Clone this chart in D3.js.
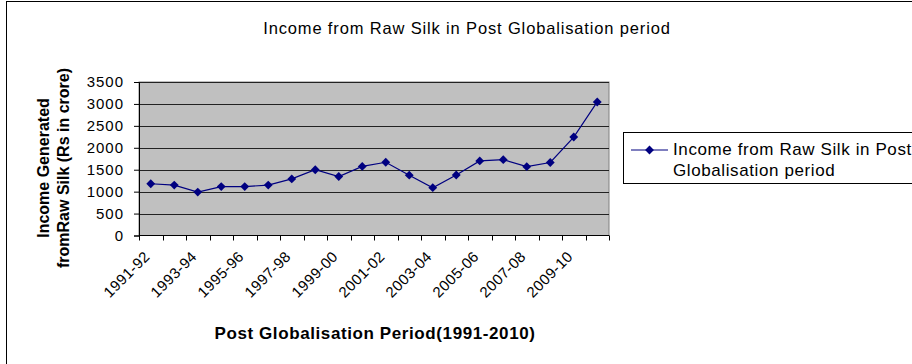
<!DOCTYPE html>
<html>
<head>
<meta charset="utf-8">
<script src="https://cdn.jsdelivr.net/npm/d3@7"></script>
<style>
  body { margin: 0; background: #fff; }
  svg { display: block; font-family: "Liberation Sans", Arial, sans-serif; }
</style>
</head>
<body>
<svg width="912" height="364"></svg>
<script>
//  Chart data
const years = ['1991-92', '1992-93', '1993-94', '1994-95', '1995-96', '1996-97', '1997-98',
    '1998-99', '1999-00', '2000-01', '2001-02', '2002-03', '2003-04', '2004-05', '2005-06',
    '2006-07', '2007-08', '2008-09', '2009-10', '2010-11'];
const income = [1180, 1150, 990, 1115, 1115, 1150, 1290, 1500, 1345, 1575, 1670, 1375,
    1090, 1380, 1700, 1730, 1570, 1665, 2245, 3045];
const yTicks = [0, 500, 1000, 1500, 2000, 2500, 3000, 3500];
const seriesName = 'Income from Raw Silk in Post Globalisation period';

const svg = d3.select('svg');
const plot = { left: 139, right: 609, top: 82, bottom: 235.5 };

//  Outer chart frame (runs off the picture on the right and bottom)
svg.append('rect')
    .attr('x', 6.5).attr('y', 1.5)
    .attr('width', 1000).attr('height', 500)
    .attr('fill', '#fff').attr('stroke', '#000');

//  Title
svg.append('text')
    .attr('x', 467).attr('y', 34)
    .attr('text-anchor', 'middle')
    .style('font-size', '16.5px')
    .style('letter-spacing', '0.85px')
    .text(seriesName);

//  Scales
const xScale = d3.scaleBand().domain(years).range([plot.left, plot.right]);
const yScale = d3.scaleLinear().domain([0, 3500]).range([plot.bottom, plot.top]);

//  Plot area
svg.append('rect')
    .attr('x', plot.left).attr('y', plot.top)
    .attr('width', plot.right - plot.left).attr('height', plot.bottom - plot.top)
    .attr('fill', '#c0c0c0').attr('stroke', '#808080');

//  Gridlines
svg.append('g')
    .selectAll('line')
    .data(yTicks.filter(d => d > 0))
    .join('line')
    .attr('x1', plot.left).attr('x2', plot.right)
    .attr('y1', d => Math.round(yScale(d)) + 0.5)
    .attr('y2', d => Math.round(yScale(d)) + 0.5)
    .attr('stroke', '#222');

//  Y axis
const yAxis = d3.axisLeft(yScale)
    .tickValues(yTicks)
    .tickFormat(d3.format('d'))
    .tickSizeOuter(0).tickSize(5).tickPadding(10);
const yAxisGroup = svg.append('g')
    .attr('transform', `translate(${plot.left},0)`)
    .call(yAxis);
yAxisGroup.selectAll('text')
    .style('font-size', '15px').style('letter-spacing', '1px')
    .style('font-family', '"Liberation Sans", Arial, sans-serif')
    .attr('fill', '#000');
yAxisGroup.selectAll('line, path').attr('stroke', '#000');

//  X axis (ticks between categories)
const bandEdges = years.map(d => xScale(d)).concat([plot.right]);
const xAxisGroup = svg.append('g');
xAxisGroup.append('line')
    .attr('x1', plot.left).attr('x2', plot.right)
    .attr('y1', plot.bottom).attr('y2', plot.bottom)
    .attr('stroke', '#000');
xAxisGroup.selectAll('line.tick')
    .data(bandEdges)
    .join('line')
    .attr('class', 'tick')
    .attr('x1', d => Math.round(d) + 0.5).attr('x2', d => Math.round(d) + 0.5)
    .attr('y1', plot.bottom).attr('y2', plot.bottom + 5)
    .attr('stroke', '#000');
xAxisGroup.selectAll('text')
    .data(years.filter((d, i) => i % 2 === 0))
    .join('text')
    .attr('text-anchor', 'end')
    .attr('transform', d => `translate(${xScale(d) + xScale.bandwidth() / 2},${plot.bottom + 22}) rotate(-45)`)
    .style('font-size', '15px')
    .style('letter-spacing', '0.4px')
    .text(d => d);

//  Axis titles
svg.append('text')
    .attr('x', 375).attr('y', 339)
    .attr('text-anchor', 'middle')
    .style('font-size', '17px').style('font-weight', 'bold')
    .style('letter-spacing', '0.6px')
    .text('Post Globalisation Period(1991-2010)');

const yTitle = svg.append('text')
    .attr('transform', `translate(49,168) rotate(-90)`)
    .attr('text-anchor', 'middle')
    .style('font-size', '16px').style('font-weight', 'bold');
yTitle.append('tspan').attr('x', 0).attr('dy', 0).text('Income Generated');
yTitle.append('tspan').attr('x', 0).attr('dy', 20).text('fromRaw Silk (Rs in crore)');

//  Line and markers
const line = d3.line()
    .x((d, i) => xScale(years[i]) + xScale.bandwidth() / 2)
    .y(d => yScale(d));

svg.append('path')
    .datum(income)
    .attr('d', line)
    .attr('fill', 'none')
    .attr('stroke', '#000080')
    .attr('stroke-width', 1.2);

const diamond = d3.symbol().type(d3.symbolDiamond2).size(50);
svg.append('g')
    .selectAll('path')
    .data(income)
    .join('path')
    .attr('d', diamond)
    .attr('transform', (d, i) => `translate(${xScale(years[i]) + xScale.bandwidth() / 2},${yScale(d)})`)
    .attr('fill', '#000080');

//  Legend
const legend = svg.append('g');
legend.append('rect')
    .attr('x', 623.5).attr('y', 132.5)
    .attr('width', 400).attr('height', 51)
    .attr('fill', '#fff').attr('stroke', '#000');
legend.append('line')
    .attr('x1', 631).attr('x2', 668)
    .attr('y1', 150).attr('y2', 150)
    .attr('stroke', '#000080').attr('stroke-width', 1.2);
legend.append('path')
    .attr('d', diamond)
    .attr('transform', 'translate(649.5,150)')
    .attr('fill', '#000080');
const legendText = legend.append('text')
    .style('font-size', '17px')
    .style('letter-spacing', '0.6px');
legendText.append('tspan').attr('x', 673).attr('y', 155).text('Income from Raw Silk in Post');
legendText.append('tspan').attr('x', 673).attr('y', 176).text('Globalisation period');
</script>
</body>
</html>
